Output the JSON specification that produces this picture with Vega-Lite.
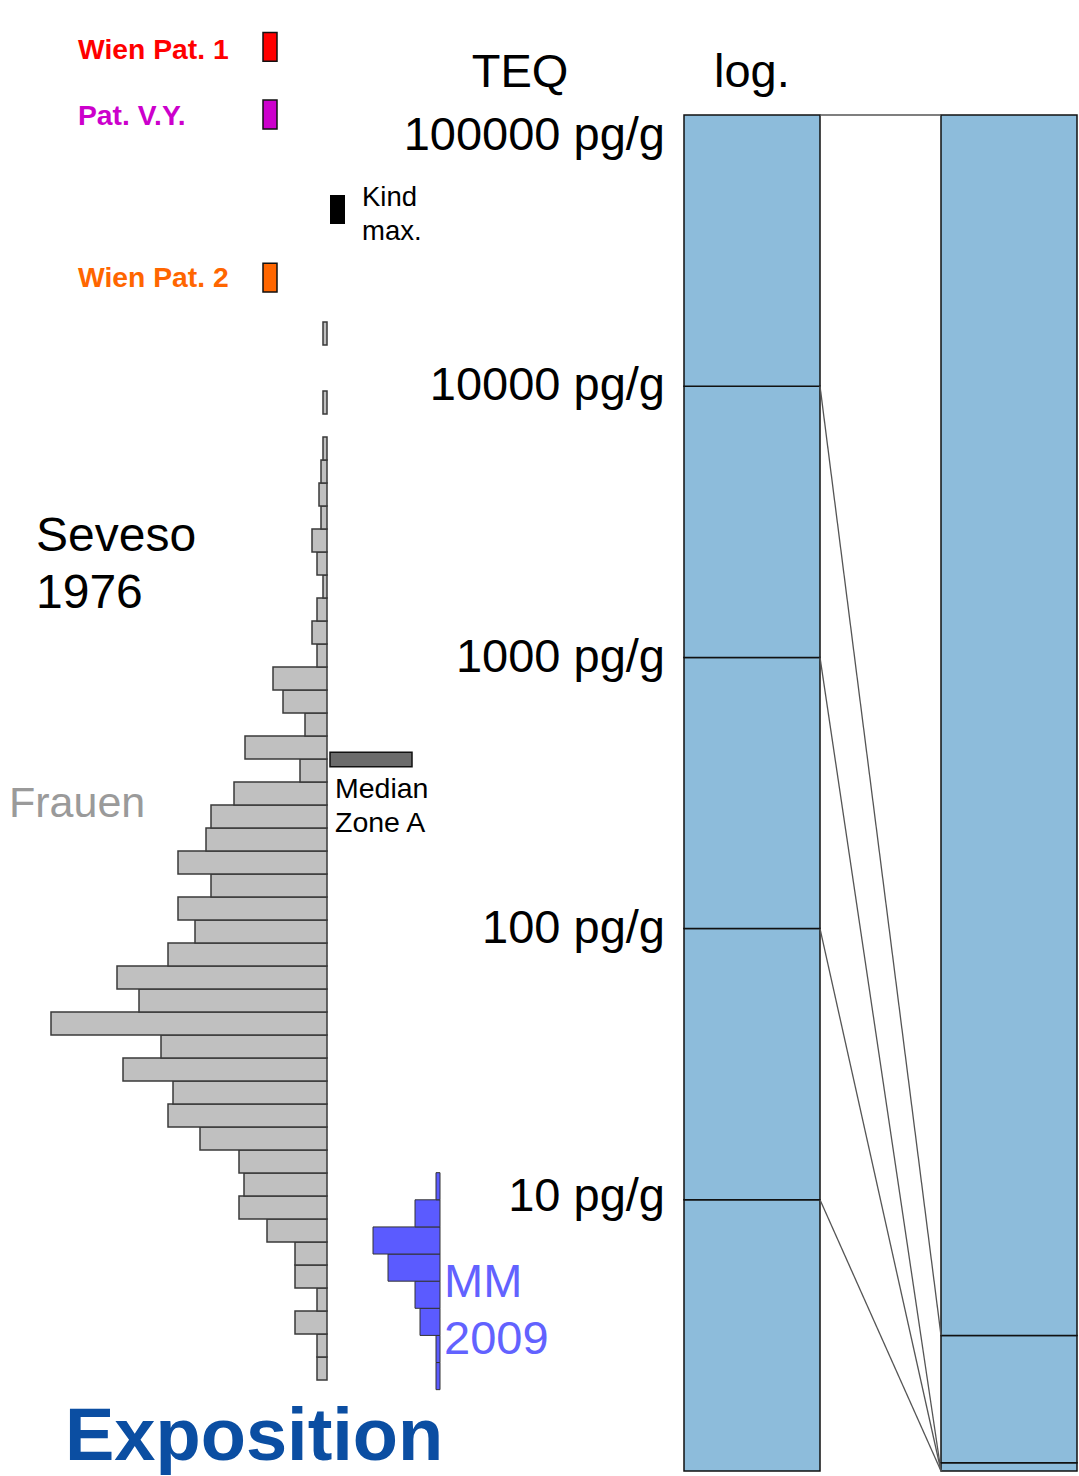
{
  "$schema": "https://vega.github.io/schema/vega-lite/v6.json",
  "width": 1079,
  "height": 1476,
  "autosize": {"type": "none"},
  "padding": 0,
  "background": "white",
  "config": {"view": {"stroke": null}, "text": {"font": "Liberation Sans"}},
  "datasets": {
    "seveso": [
      {"lo": 0.3355, "hi": 0.4204, "n": 10},
      {"lo": 0.4204, "hi": 0.5052, "n": 10},
      {"lo": 0.5052, "hi": 0.5900, "n": 32},
      {"lo": 0.5900, "hi": 0.6748, "n": 10},
      {"lo": 0.6748, "hi": 0.7596, "n": 32},
      {"lo": 0.7596, "hi": 0.8444, "n": 32},
      {"lo": 0.8444, "hi": 0.9292, "n": 60},
      {"lo": 0.9292, "hi": 1.0140, "n": 88},
      {"lo": 1.0140, "hi": 1.0988, "n": 83},
      {"lo": 1.0988, "hi": 1.1836, "n": 88},
      {"lo": 1.1836, "hi": 1.2685, "n": 127},
      {"lo": 1.2685, "hi": 1.3533, "n": 159},
      {"lo": 1.3533, "hi": 1.4381, "n": 154},
      {"lo": 1.4381, "hi": 1.5229, "n": 204},
      {"lo": 1.5229, "hi": 1.6077, "n": 166},
      {"lo": 1.6077, "hi": 1.6925, "n": 276},
      {"lo": 1.6925, "hi": 1.7773, "n": 188},
      {"lo": 1.7773, "hi": 1.8621, "n": 210},
      {"lo": 1.8621, "hi": 1.9469, "n": 159},
      {"lo": 1.9469, "hi": 2.0317, "n": 132},
      {"lo": 2.0317, "hi": 2.1165, "n": 149},
      {"lo": 2.1165, "hi": 2.2014, "n": 116},
      {"lo": 2.2014, "hi": 2.2862, "n": 149},
      {"lo": 2.2862, "hi": 2.3710, "n": 121},
      {"lo": 2.3710, "hi": 2.4558, "n": 116},
      {"lo": 2.4558, "hi": 2.5406, "n": 93},
      {"lo": 2.5406, "hi": 2.6254, "n": 27},
      {"lo": 2.6254, "hi": 2.7102, "n": 82},
      {"lo": 2.7102, "hi": 2.7950, "n": 22},
      {"lo": 2.7950, "hi": 2.8798, "n": 44},
      {"lo": 2.8798, "hi": 2.9646, "n": 54},
      {"lo": 2.9646, "hi": 3.0494, "n": 10},
      {"lo": 3.0494, "hi": 3.1343, "n": 15},
      {"lo": 3.1343, "hi": 3.2191, "n": 10},
      {"lo": 3.2191, "hi": 3.3039, "n": 4},
      {"lo": 3.3039, "hi": 3.3887, "n": 10},
      {"lo": 3.3887, "hi": 3.4735, "n": 15},
      {"lo": 3.4735, "hi": 3.5583, "n": 6},
      {"lo": 3.5583, "hi": 3.6431, "n": 8},
      {"lo": 3.6431, "hi": 3.7279, "n": 6},
      {"lo": 3.7279, "hi": 3.8127, "n": 4},
      {"lo": 3.8975, "hi": 3.9824, "n": 4},
      {"lo": 4.1520, "hi": 4.2368, "n": 4}
    ],
    "mm": [
      {"lo": 0.3, "hi": 0.4, "n": 4},
      {"lo": 0.4, "hi": 0.5, "n": 4},
      {"lo": 0.5, "hi": 0.6, "n": 20},
      {"lo": 0.6, "hi": 0.7, "n": 25},
      {"lo": 0.7, "hi": 0.8, "n": 52},
      {"lo": 0.8, "hi": 0.9, "n": 67},
      {"lo": 0.9, "hi": 1.0, "n": 25},
      {"lo": 1.0, "hi": 1.1, "n": 4}
    ],
    "logcol": [
      {"lo": 0, "hi": 1}, {"lo": 1, "hi": 2}, {"lo": 2, "hi": 3}, {"lo": 3, "hi": 4}, {"lo": 4, "hi": 5}
    ],
    "lincol": [
      {"lo": 0, "hi": 0.03}, {"lo": 0.03, "hi": 0.5}, {"lo": 0.5, "hi": 5}
    ],
    "links": [
      {"a": 5, "b": 5}, {"a": 4, "b": 0.5}, {"a": 3, "b": 0}, {"a": 2, "b": 0}, {"a": 1, "b": 0}
    ],
    "labels": [
      {"t": "100000 pg/g", "ly": 4.871},
      {"t": "10000 pg/g", "ly": 3.949},
      {"t": "1000 pg/g", "ly": 2.947},
      {"t": "100 pg/g", "ly": 1.946},
      {"t": "10 pg/g", "ly": 0.96}
    ],
    "cases": [
      {"case": "Wien Pat. 1", "lo": 5.198, "hi": 5.304, "ly": 5.2054},
      {"case": "Pat. V.Y.", "lo": 4.948, "hi": 5.055, "ly": 4.9631},
      {"case": "Wien Pat. 2", "lo": 4.347, "hi": 4.453, "ly": 4.3669}
    ]
  },
  "resolve": {"scale": {"x": "independent", "color": "independent"}},
  "layer": [
    {
      "data": {"name": "logcol"},
      "mark": {"type": "rect", "fill": "#8dbcdb", "stroke": "#111111", "strokeWidth": 1.5},
      "encoding": {
        "x": {"datum": 684, "type": "quantitative", "scale": {"domain": [0, 1079], "nice": false, "zero": false}, "axis": null},
        "x2": {"datum": 820},
        "y": {"field": "lo", "type": "quantitative", "scale": {"domain": [-0.0184, 5.424], "nice": false, "zero": false}, "axis": null},
        "y2": {"field": "hi"}
      }
    },
    {
      "data": {"name": "lincol"},
      "mark": {"type": "rect", "fill": "#8dbcdb", "stroke": "#111111", "strokeWidth": 1.5},
      "encoding": {
        "x": {"datum": 941, "type": "quantitative", "scale": {"domain": [0, 1079], "nice": false, "zero": false}, "axis": null},
        "x2": {"datum": 1077},
        "y": {"field": "lo", "type": "quantitative", "scale": {"domain": [-0.0184, 5.424], "nice": false, "zero": false}, "axis": null},
        "y2": {"field": "hi"}
      }
    },
    {
      "data": {"name": "links"},
      "mark": {"type": "rule", "color": "#555555", "strokeWidth": 1.3},
      "encoding": {
        "x": {"datum": 820, "type": "quantitative", "scale": {"domain": [0, 1079], "nice": false, "zero": false}, "axis": null},
        "x2": {"datum": 941},
        "y": {"field": "a", "type": "quantitative", "scale": {"domain": [-0.0184, 5.424], "nice": false, "zero": false}, "axis": null},
        "y2": {"field": "b"}
      }
    },
    {
      "data": {"name": "seveso"},
      "mark": {"type": "rect", "fill": "#c0c0c0", "stroke": "#3a3a3a", "strokeWidth": 1.5},
      "encoding": {
        "x": {"field": "n", "type": "quantitative", "scale": {"domain": [-752, 327], "reverse": true, "nice": false, "zero": false}, "axis": null},
        "x2": {"datum": 0},
        "y": {"field": "lo", "type": "quantitative", "scale": {"domain": [-0.0184, 5.424], "nice": false, "zero": false}, "axis": null},
        "y2": {"field": "hi"}
      }
    },
    {
      "data": {"name": "mm"},
      "mark": {"type": "rect", "fill": "#5b5bff", "stroke": "#333333", "strokeWidth": 1},
      "encoding": {
        "x": {"field": "n", "type": "quantitative", "scale": {"domain": [-639, 440], "reverse": true, "nice": false, "zero": false}, "axis": null},
        "x2": {"datum": 0},
        "y": {"field": "lo", "type": "quantitative", "scale": {"domain": [-0.0184, 5.424], "nice": false, "zero": false}, "axis": null},
        "y2": {"field": "hi"}
      }
    },
    {
      "data": {"name": "cases"},
      "mark": {"type": "rect", "stroke": "#111111", "strokeWidth": 1.5},
      "encoding": {
        "x": {"datum": 263, "type": "quantitative", "scale": {"domain": [0, 1079], "nice": false, "zero": false}, "axis": null},
        "x2": {"datum": 277},
        "y": {"field": "lo", "type": "quantitative", "scale": {"domain": [-0.0184, 5.424], "nice": false, "zero": false}, "axis": null},
        "y2": {"field": "hi"},
        "fill": {"field": "case", "type": "nominal", "scale": {"domain": ["Wien Pat. 1", "Pat. V.Y.", "Wien Pat. 2"], "range": ["#ff0000", "#cc00cc", "#ff6600"]}, "legend": null}
      }
    },
    {
      "data": {"name": "cases"},
      "mark": {"type": "text", "align": "left", "baseline": "alphabetic", "fontSize": 28.3, "fontWeight": "bold"},
      "encoding": {
        "x": {"datum": 78, "type": "quantitative", "scale": {"domain": [0, 1079], "nice": false, "zero": false}, "axis": null},
        "y": {"field": "ly", "type": "quantitative", "scale": {"domain": [-0.0184, 5.424], "nice": false, "zero": false}, "axis": null},
        "text": {"field": "case"},
        "color": {"field": "case", "type": "nominal", "scale": {"domain": ["Wien Pat. 1", "Pat. V.Y.", "Wien Pat. 2"], "range": ["#ff0000", "#cc00cc", "#ff6600"]}, "legend": null}
      }
    },
    {
      "data": {"values": [{"what": "Kind max.", "lo": 4.598, "hi": 4.705}]},
      "mark": {"type": "rect", "fill": "#000000"},
      "encoding": {
        "x": {"datum": 330, "type": "quantitative", "scale": {"domain": [0, 1079], "nice": false, "zero": false}, "axis": null},
        "x2": {"datum": 345},
        "y": {"field": "lo", "type": "quantitative", "scale": {"domain": [-0.0184, 5.424], "nice": false, "zero": false}, "axis": null},
        "y2": {"field": "hi"}
      }
    },
    {
      "data": {"values": [{"what": "Median Zone A", "lo": 2.597, "hi": 2.650}]},
      "mark": {"type": "rect", "fill": "#6b6b6b", "stroke": "#111111", "strokeWidth": 1.5},
      "encoding": {
        "x": {"datum": 330, "type": "quantitative", "scale": {"domain": [0, 1079], "nice": false, "zero": false}, "axis": null},
        "x2": {"datum": 412},
        "y": {"field": "lo", "type": "quantitative", "scale": {"domain": [-0.0184, 5.424], "nice": false, "zero": false}, "axis": null},
        "y2": {"field": "hi"}
      }
    },
    {
      "data": {"name": "labels"},
      "mark": {"type": "text", "align": "right", "baseline": "alphabetic", "fontSize": 47, "color": "#000000"},
      "encoding": {
        "x": {"datum": 665, "type": "quantitative", "scale": {"domain": [0, 1079], "nice": false, "zero": false}, "axis": null},
        "y": {"field": "ly", "type": "quantitative", "scale": {"domain": [-0.0184, 5.424], "nice": false, "zero": false}, "axis": null},
        "text": {"field": "t"}
      }
    },
    {
      "data": {"values": [{"t": "TEQ", "ly": 5.1043}]},
      "mark": {"type": "text", "align": "center", "baseline": "alphabetic", "fontSize": 47, "color": "#000000"},
      "encoding": {
        "x": {"datum": 520, "type": "quantitative", "scale": {"domain": [0, 1079], "nice": false, "zero": false}, "axis": null},
        "y": {"field": "ly", "type": "quantitative", "scale": {"domain": [-0.0184, 5.424], "nice": false, "zero": false}, "axis": null},
        "text": {"field": "t"}
      }
    },
    {
      "data": {"values": [{"t": "log.", "ly": 5.1043}]},
      "mark": {"type": "text", "align": "left", "baseline": "alphabetic", "fontSize": 47, "color": "#000000"},
      "encoding": {
        "x": {"datum": 714, "type": "quantitative", "scale": {"domain": [0, 1079], "nice": false, "zero": false}, "axis": null},
        "y": {"field": "ly", "type": "quantitative", "scale": {"domain": [-0.0184, 5.424], "nice": false, "zero": false}, "axis": null},
        "text": {"field": "t"}
      }
    },
    {
      "data": {"values": [{"t": "Kind\nmax.", "ly": 4.6645}]},
      "mark": {"type": "text", "align": "left", "baseline": "alphabetic", "fontSize": 27.5, "lineHeight": 34, "lineBreak": "\n", "color": "#000000"},
      "encoding": {
        "x": {"datum": 362, "type": "quantitative", "scale": {"domain": [0, 1079], "nice": false, "zero": false}, "axis": null},
        "y": {"field": "ly", "type": "quantitative", "scale": {"domain": [-0.0184, 5.424], "nice": false, "zero": false}, "axis": null},
        "text": {"field": "t"}
      }
    },
    {
      "data": {"values": [{"t": "Seveso\n1976", "ly": 3.3923}]},
      "mark": {"type": "text", "align": "left", "baseline": "alphabetic", "fontSize": 48, "lineHeight": 57, "lineBreak": "\n", "color": "#000000"},
      "encoding": {
        "x": {"datum": 36, "type": "quantitative", "scale": {"domain": [0, 1079], "nice": false, "zero": false}, "axis": null},
        "y": {"field": "ly", "type": "quantitative", "scale": {"domain": [-0.0184, 5.424], "nice": false, "zero": false}, "axis": null},
        "text": {"field": "t"}
      }
    },
    {
      "data": {"values": [{"t": "Frauen", "ly": 2.4115}]},
      "mark": {"type": "text", "align": "left", "baseline": "alphabetic", "fontSize": 43, "color": "#9a9a9a"},
      "encoding": {
        "x": {"datum": 9, "type": "quantitative", "scale": {"domain": [0, 1079], "nice": false, "zero": false}, "axis": null},
        "y": {"field": "ly", "type": "quantitative", "scale": {"domain": [-0.0184, 5.424], "nice": false, "zero": false}, "axis": null},
        "text": {"field": "t"}
      }
    },
    {
      "data": {"values": [{"t": "Median\nZone A", "ly": 2.4827}]},
      "mark": {"type": "text", "align": "left", "baseline": "alphabetic", "fontSize": 28.5, "lineHeight": 34, "lineBreak": "\n", "color": "#000000"},
      "encoding": {
        "x": {"datum": 335, "type": "quantitative", "scale": {"domain": [0, 1079], "nice": false, "zero": false}, "axis": null},
        "y": {"field": "ly", "type": "quantitative", "scale": {"domain": [-0.0184, 5.424], "nice": false, "zero": false}, "axis": null},
        "text": {"field": "t"}
      }
    },
    {
      "data": {"values": [{"t": "MM\n2009", "ly": 0.6427}]},
      "mark": {"type": "text", "align": "left", "baseline": "alphabetic", "fontSize": 47, "lineHeight": 57, "lineBreak": "\n", "color": "#6262ff"},
      "encoding": {
        "x": {"datum": 444, "type": "quantitative", "scale": {"domain": [0, 1079], "nice": false, "zero": false}, "axis": null},
        "y": {"field": "ly", "type": "quantitative", "scale": {"domain": [-0.0184, 5.424], "nice": false, "zero": false}, "axis": null},
        "text": {"field": "t"}
      }
    },
    {
      "data": {"values": [{"t": "Exposition", "ly": 0.0406}]},
      "mark": {"type": "text", "align": "left", "baseline": "alphabetic", "fontSize": 74, "fontWeight": "bold", "color": "#0b4ea2"},
      "encoding": {
        "x": {"datum": 65, "type": "quantitative", "scale": {"domain": [0, 1079], "nice": false, "zero": false}, "axis": null},
        "y": {"field": "ly", "type": "quantitative", "scale": {"domain": [-0.0184, 5.424], "nice": false, "zero": false}, "axis": null},
        "text": {"field": "t"}
      }
    }
  ]
}
